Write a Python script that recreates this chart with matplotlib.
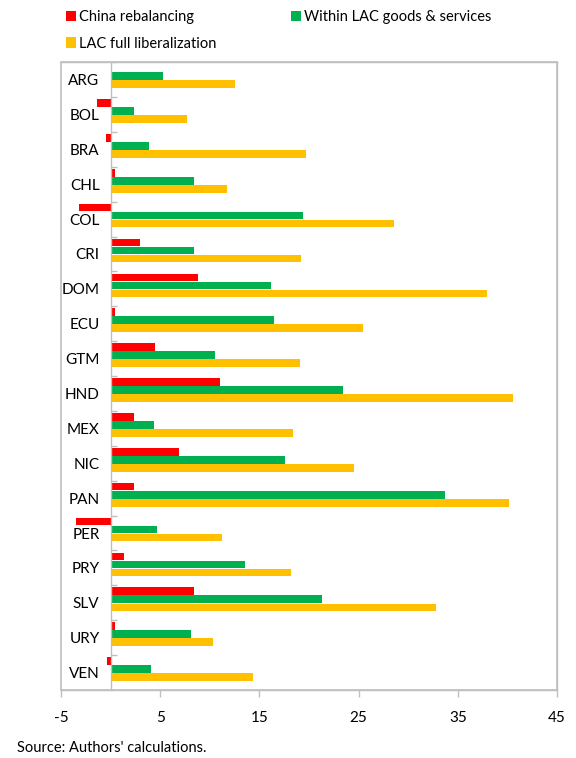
# Bar chart of trade scenario effects by LAC country
import numpy as np
import matplotlib.pyplot as plt
from matplotlib.patches import Rectangle

plt.rcParams['font.family'] = ['Lato', 'DejaVu Sans']
plt.rcParams['axes.unicode_minus'] = False

countries = ["ARG", "BOL", "BRA", "CHL", "COL", "CRI", "DOM", "ECU", "GTM",
             "HND", "MEX", "NIC", "PAN", "PER", "PRY", "SLV", "URY", "VEN"]
china_rebal = [0.05, -1.4, -0.45, 0.45, -3.15, 3.0, 8.85, 0.45, 4.5,
               11.0, 2.4, 6.9, 2.4, -3.45, 1.3, 8.4, 0.45, -0.35]
within_lac = [5.25, 2.4, 3.9, 8.4, 19.4, 8.4, 16.2, 16.5, 10.5,
              23.4, 4.4, 17.6, 33.7, 4.65, 13.5, 21.35, 8.1, 4.05]
lac_full = [12.5, 7.65, 19.7, 11.75, 28.55, 19.2, 37.9, 25.4, 19.1,
            40.6, 18.35, 24.5, 40.2, 11.25, 18.15, 32.8, 10.35, 14.4]

RED = "#FF0000"
GREEN = "#00B050"
YELLOW = "#FFC000"
AXIS_GRAY = "#BFBFBF"
BAR_H = 0.22

fig = plt.figure(figsize=(5.76, 7.58), dpi=100)
ax = fig.add_axes([0.106, 0.0897, 0.861, 0.8283])

y = np.arange(len(countries))
ax.barh(y - 0.33, china_rebal, height=BAR_H, color=RED, label="China rebalancing")
ax.barh(y - 0.10, within_lac, height=BAR_H, color=GREEN, label="Within LAC goods & services")
ax.barh(y + 0.13, lac_full, height=BAR_H, color=YELLOW, label="LAC full liberalization")

ax.set_xlim(-5, 45)
ax.set_xticks([-5, 5, 15, 25, 35, 45])
ax.set_ylim(len(countries) - 0.5, -0.5)

# category axis sits at x = 0
ax.spines['left'].set_position(('data', 0))
ax.set_yticks(y)
ax.set_yticklabels(countries)
ax.set_yticks(np.arange(len(countries)) - 0.5, minor=True)
ax.tick_params(axis='y', which='major', length=0, pad=8, labelsize=11)
ax.tick_params(axis='y', which='minor', direction='in', length=4, width=1, color=AXIS_GRAY)
ax.tick_params(axis='x', direction='out', length=5, width=1, color=AXIS_GRAY,
               pad=10, labelsize=11)
for sp in ax.spines.values():
    sp.set_color(AXIS_GRAY)
    sp.set_linewidth(1)
ax.add_patch(Rectangle((0, 0), 1, 1, transform=ax.transAxes, fill=False,
                       edgecolor=AXIS_GRAY, linewidth=1.2, zorder=5, clip_on=False))

handles, labels = ax.get_legend_handles_labels()
order = [0, 2, 1]
fig.legend([handles[i] for i in order], [labels[i] for i in order],
           loc='upper left', bbox_to_anchor=(0.097, 1.0), ncol=2, frameon=False,
           fontsize=10.5, handlelength=0.7, handleheight=0.7, handletextpad=0.2,
           columnspacing=5.1, labelspacing=0.85, borderaxespad=0.3)

fig.text(0.03, 0.004, "Source: Authors' calculations.", fontsize=10.5, ha='left', va='bottom')

fig.savefig("out.png", dpi=100)
